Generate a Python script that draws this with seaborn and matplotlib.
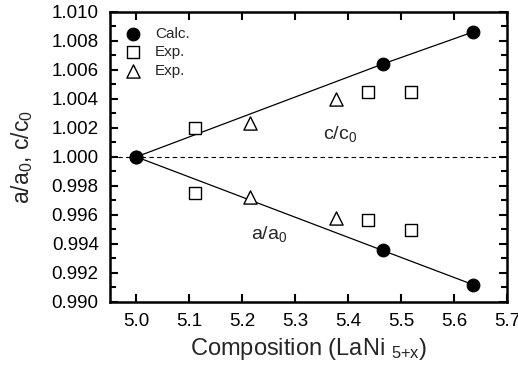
import matplotlib
matplotlib.use("Agg")
import matplotlib.pyplot as plt
import seaborn as sns
import pandas as pd
from matplotlib.ticker import MultipleLocator, FormatStrFormatter

# ==============================================================
# DATA
# ==============================================================
calc_x = [5.0, 5.465, 5.635]
calc_c = [1.0000, 1.0064, 1.0086]
calc_a = [1.0000, 0.99355, 0.9912]

sq_x = [5.11, 5.437, 5.518]
sq_c = [1.0020, 1.00444, 1.0045]
sq_a = [0.9975, 0.99563, 0.99493]

tri_x = [5.215, 5.377]
tri_c = [1.00236, 1.00396]
tri_a = [0.99722, 0.99576]

x_ticks = [5.0, 5.1, 5.2, 5.3, 5.4, 5.5, 5.6, 5.7]

# ==============================================================
# STYLE
# ==============================================================
sns.set_style("ticks")
plt.rcParams["font.family"] = ["Liberation Sans", "DejaVu Sans"]
plt.rcParams["mathtext.default"] = "regular"

fig = plt.figure(figsize=(5.18, 3.70), dpi=100)
ax = fig.add_axes([0.212, 0.184, 0.767, 0.784])

# reference line at 1
ax.axhline(1.0, color="black", lw=0.8, ls=(0, (4, 3)), zorder=1)

# calc lines
sns.lineplot(x=calc_x, y=calc_c, ax=ax, color="black", lw=0.9, zorder=2)
sns.lineplot(x=calc_x, y=calc_a, ax=ax, color="black", lw=0.9, zorder=2)

calc = pd.DataFrame({"x": calc_x * 2, "y": calc_c + calc_a})
sq = pd.DataFrame({"x": sq_x * 2, "y": sq_c + sq_a})
tri = pd.DataFrame({"x": tri_x * 2, "y": tri_c + tri_a})

sns.scatterplot(data=calc, x="x", y="y", ax=ax, marker="o", s=85, color="black",
                edgecolor="black", zorder=3, label="Calc.")
sns.scatterplot(data=sq, x="x", y="y", ax=ax, marker="s", s=65, facecolor="white",
                edgecolor="black", linewidth=1.0, zorder=3, label="Exp.")
sns.scatterplot(data=tri, x="x", y="y", ax=ax, marker="^", s=90, facecolor="white",
                edgecolor="black", linewidth=1.0, zorder=3, label="Exp.")

ax.text(5.385, 1.0016, "c/c$_0$", fontsize=14, ha="center", va="center")
ax.text(5.25, 0.99465, "a/a$_0$", fontsize=14, ha="center", va="center")

# ==============================================================
# AXES
# ==============================================================
ax.set_xlim(4.95, 5.7)
ax.set_ylim(0.990, 1.010)
ax.set_xticks(x_ticks)
ax.set_xticklabels([f"{t:.1f}" for t in x_ticks])
ax.yaxis.set_major_locator(MultipleLocator(0.002))
ax.yaxis.set_minor_locator(MultipleLocator(0.001))
ax.yaxis.set_major_formatter(FormatStrFormatter("%.3f"))

ax.tick_params(which="both", direction="in", top=True, right=True, width=1.5,
               labelsize=13.5, colors="black")
ax.tick_params(which="major", length=6, pad=8)
ax.tick_params(which="minor", length=4)
for sp in ax.spines.values():
    sp.set_visible(True)
    sp.set_linewidth(1.8)
    sp.set_color("black")

ax.set_xlabel("Composition (LaNi $_{5{+}x}$)", fontsize=17, labelpad=4)
ax.set_ylabel("a/a$_0$, c/c$_0$", fontsize=16.5, labelpad=12)

ax.legend(loc="upper left", frameon=False, fontsize=11, handletextpad=0.9,
          labelspacing=0.3, borderaxespad=0.0, handlelength=1.0,
          bbox_to_anchor=(0.025, 0.97))

fig.savefig("out.png", dpi=100)
plt.close(fig)
